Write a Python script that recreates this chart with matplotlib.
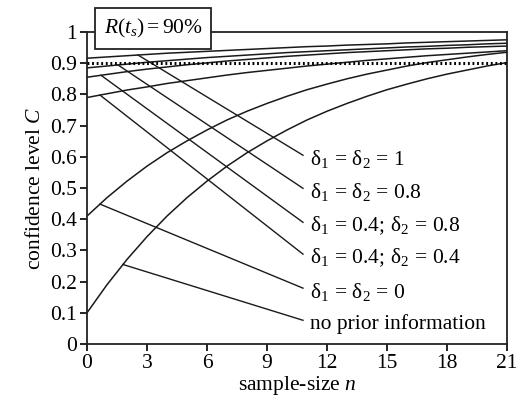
import numpy as np
import matplotlib
matplotlib.use("Agg")
import matplotlib.pyplot as plt

plt.rcParams['font.family'] = ['Liberation Serif', 'DejaVu Serif']
plt.rcParams['mathtext.fontset'] = 'custom'
plt.rcParams['mathtext.rm'] = 'Liberation Serif'
plt.rcParams['mathtext.it'] = 'Liberation Serif:italic'
plt.rcParams['mathtext.bf'] = 'Liberation Serif:bold'

# ---- data ----
n = list(range(22))
c_no_prior = [0.100, 0.190, 0.271, 0.344, 0.410, 0.469, 0.522, 0.570, 0.613, 0.651, 0.686,
              0.718, 0.746, 0.771, 0.794, 0.815, 0.833, 0.850, 0.865, 0.878, 0.891, 0.902]
c_d00 = [0.410, 0.469, 0.522, 0.570, 0.613, 0.651, 0.686, 0.718, 0.746, 0.771, 0.794,
         0.815, 0.833, 0.850, 0.865, 0.878, 0.891, 0.902, 0.911, 0.920, 0.928, 0.935]
c_d04_04 = [0.790, 0.802, 0.814, 0.824, 0.835, 0.844, 0.853, 0.862, 0.870, 0.877, 0.884,
            0.891, 0.897, 0.903, 0.909, 0.914, 0.919, 0.924, 0.928, 0.932, 0.936, 0.940]
c_d04_08 = [0.855, 0.864, 0.873, 0.881, 0.888, 0.895, 0.901, 0.907, 0.912, 0.917, 0.922,
            0.926, 0.930, 0.934, 0.937, 0.940, 0.943, 0.946, 0.948, 0.951, 0.953, 0.955]
c_d08 = [0.885, 0.891, 0.897, 0.903, 0.908, 0.913, 0.918, 0.922, 0.926, 0.930, 0.934,
         0.937, 0.940, 0.943, 0.946, 0.949, 0.952, 0.954, 0.957, 0.959, 0.962, 0.964]
c_d10 = [0.916, 0.920, 0.924, 0.928, 0.932, 0.935, 0.938, 0.941, 0.944, 0.947, 0.950,
         0.953, 0.955, 0.958, 0.960, 0.962, 0.965, 0.967, 0.969, 0.971, 0.973, 0.975]
target_R = 0.9

labels = [r'$\mathrm{δ}_1 \,=\, \mathrm{δ}_2 \,=\, 1$',
          r'$\mathrm{δ}_1 \,=\, \mathrm{δ}_2 \,=\, 0.8$',
          r'$\mathrm{δ}_1 \,=\, 0.4;\, \mathrm{δ}_2 \,=\, 0.8$',
          r'$\mathrm{δ}_1 \,=\, 0.4;\, \mathrm{δ}_2 \,=\, 0.4$',
          r'$\mathrm{δ}_1 \,=\, \mathrm{δ}_2 \,=\, 0$',
          'no prior information']
series = [c_d10, c_d08, c_d04_08, c_d04_04, c_d00, c_no_prior]
label_y = [0.593, 0.487, 0.378, 0.276, 0.167, 0.064]
leader_n = [2.55, 1.55, 0.7, 0.65, 0.65, 1.8]
x_ticks = [0, 3, 6, 9, 12, 15, 18, 21]
y_ticks = [0, 0.1, 0.2, 0.3, 0.4, 0.5, 0.6, 0.7, 0.8, 0.9, 1]
y_tick_labels = ['0', '0.1', '0.2', '0.3', '0.4', '0.5', '0.6', '0.7', '0.8', '0.9', '1']

fig = plt.figure(figsize=(5.2, 4.03), dpi=100)
ax = fig.add_axes([0.1673, 0.1464, 0.8077, 0.7742])

lc = '#1a1a1a'
for s in series:
    ax.plot(n, s, color=lc, lw=1.1, solid_capstyle='butt')

ax.axhline(target_R, color='black', lw=2.2, ls=(0, (0.6, 0.9)), zorder=3)

fs = 15.5
text_n = 11.15
end_n = 10.8
for lab, s, ly, ln in zip(labels, series, label_y, leader_n):
    y0 = np.interp(ln, n, s)
    ax.plot([ln, end_n], [y0, ly + 0.012], color=lc, lw=1.0)
    ax.text(text_n, ly, lab, fontsize=fs, ha='left', va='center', color='black')

ax.set_xlim(0, 21)
ax.set_ylim(0, 1)
ax.set_xticks(x_ticks)
ax.set_yticks(y_ticks)
ax.set_yticklabels(y_tick_labels)
ax.tick_params(direction='out', length=5, width=1.2, labelsize=fs, pad=2,
               top=False, right=False)
for sp in ax.spines.values():
    sp.set_linewidth(1.3)
    sp.set_color('#222222')

ax.set_xlabel(r'sample-size $n$', fontsize=fs, labelpad=1)
ax.set_ylabel(r'confidence level $C$', fontsize=fs, labelpad=4)

ax.text(0.0395, 1.011, r'$R(t_s) = 90\%$', transform=ax.transAxes, fontsize=fs,
        ha='left', va='center', zorder=10,
        bbox=dict(boxstyle='square,pad=0.4', fc='white', ec='#222222', lw=1.3))

fig.savefig('out.png', dpi=100)
